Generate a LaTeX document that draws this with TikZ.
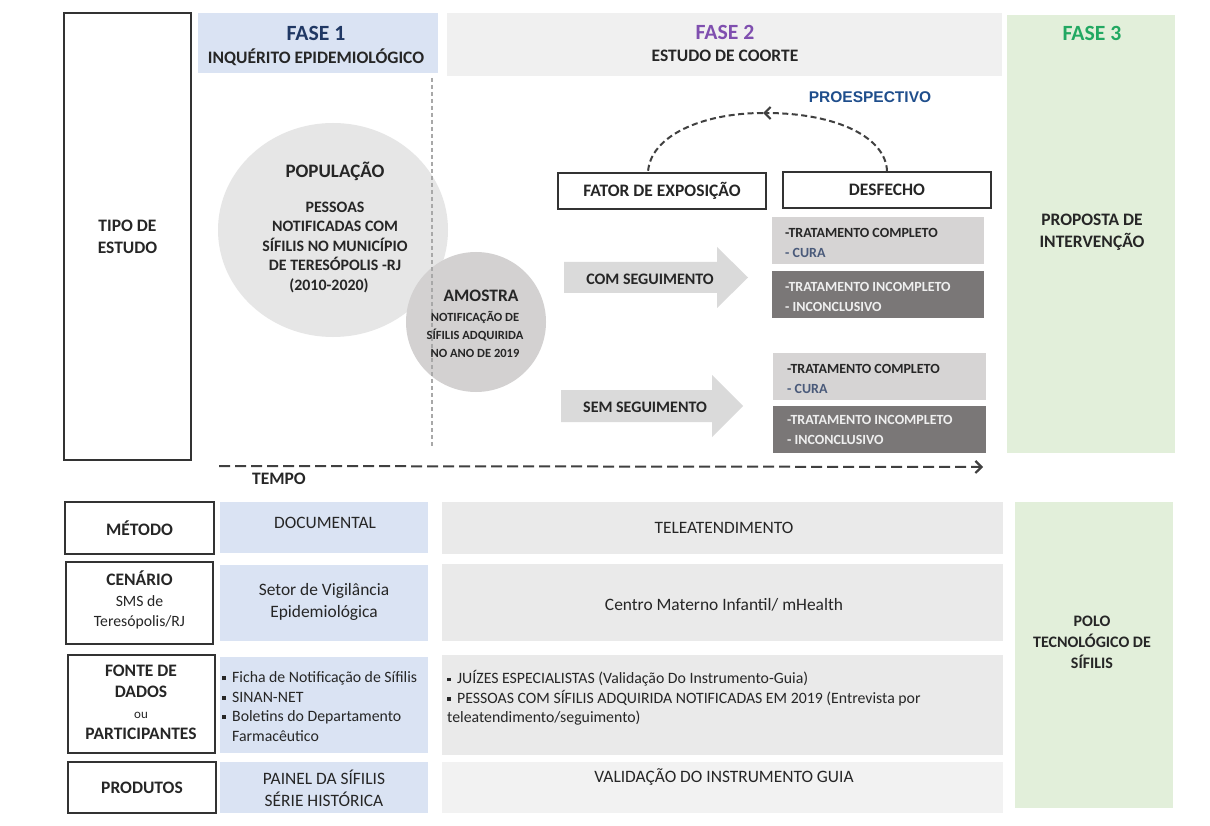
\documentclass[tikz,border=0pt]{standalone}
\usepackage{fontspec}
\setmainfont{Carlito}
\newfontfamily\arialfont{Liberation Sans}
\usetikzlibrary{arrows.meta,shapes.geometric}
\definecolor{txt}{HTML}{262626}
\definecolor{blueF}{HTML}{DAE3F3}
\definecolor{greyH}{HTML}{F0F0F0}
\definecolor{greenF}{HTML}{E2EFDA}
\definecolor{popF}{HTML}{E6E6E6}
\definecolor{amoF}{HTML}{D3D1D1}
\definecolor{arrF}{HTML}{DADADA}
\definecolor{lightB}{HTML}{D6D4D4}
\definecolor{darkB}{HTML}{7A7777}
\definecolor{darkT}{HTML}{EFEFEF}
\definecolor{cura}{HTML}{4A5A7A}
\definecolor{f1c}{HTML}{203864}
\definecolor{f2c}{HTML}{7F4FAF}
\definecolor{f3c}{HTML}{22A862}
\definecolor{proc}{HTML}{1F4E8C}
\definecolor{cellG}{HTML}{EAEAEA}
\definecolor{cellG2}{HTML}{F2F2F2}
\definecolor{lineD}{HTML}{333333}
\definecolor{lineK}{HTML}{404040}
\definecolor{lineV}{HTML}{A8A8A8}
\newcommand{\fsz}[2]{\fontsize{#1}{#2}\selectfont}
\newcommand{\bul}{\makebox[10pt][l]{\raisebox{2.6pt}{\rule{3.6pt}{3.6pt}}}}
\begin{document}
\begin{tikzpicture}[x=1pt,y=-1pt,
  panel/.style={inner sep=0pt, draw=none},
  frame/.style={draw=lineD, line width=1.6pt, fill=white, inner sep=0pt},
  lbl/.style={inner sep=0pt, text=txt, align=center, font=\fsz{17.5}{22}\bfseries},
  reg/.style={inner sep=0pt, text=txt, align=center, font=\fsz{17.4}{22}},
  fase/.style={inner sep=0pt, font=\fsz{21.7}{26}\bfseries},
  outc/.style={inner sep=0pt, anchor=west, align=left, font=\fsz{14}{20}\bfseries},
  lst/.style={inner sep=0pt, anchor=west, align=left, text=txt, font=\fsz{15.8}{19.5}},
  bigarrow/.style={fill=arrF},
  dsh/.style={draw=lineK, line width=2pt, dash pattern=on 6pt off 3.5pt},
  tdsh/.style={draw=lineK, line width=2pt, dash pattern=on 11pt off 5pt},
  tip/.style={-{Straight Barb[length=6pt,width=12pt,line width=2.2pt]}}
]
\useasboundingbox (0,0) rectangle (1210,826);
\fill[white] (0,0) rectangle (1210,826);

% ---------- top section ----------
\node[frame, minimum width=127, minimum height=447] (tipo) at (127.5,236.5) {};
\node[lbl] (tipoT) at (127.5,237) {TIPO DE\\ESTUDO};

\node[panel, fill=blueF, minimum width=240, minimum height=60] (h1) at (318,43) {};
\node[panel, fill=greyH, minimum width=555, minimum height=63] (h2) at (724.5,44.5) {};
\node[panel, fill=greenF, minimum width=168, minimum height=438] (h3) at (1091,234) {};

\node[fase, text=f1c] (f1) at (316,33) {FASE 1};
\node[lbl] (f1s) at (316,57) {INQUÉRITO EPIDEMIOLÓGICO};
\node[fase, text=f2c] (f2) at (725,32) {FASE 2};
\node[lbl] (f2s) at (725,56) {ESTUDO DE COORTE};
\node[fase, text=f3c] (f3) at (1092,33) {FASE 3};
\node[lbl] (f3s) at (1092,232) {PROPOSTA DE\\INTERVENÇÃO};

% circles
\node[ellipse, fill=popF, minimum width=230, minimum height=214, inner sep=0pt] (pop) at (333,230) {};
\node[circle, fill=amoF, minimum size=140, inner sep=0pt] (amo) at (476,322) {};
\coordinate (vt) at (432,78);
\coordinate (vb) at (432,447);
\draw[lineV, line width=1.3pt, dash pattern=on 4pt off 3pt] (vt) -- (vb);

\node[inner sep=0pt, text=txt, font=\fsz{19}{22}\bfseries] (popT) at (335,171) {POPULAÇÃO};
\node[inner sep=0pt, text=txt, align=center, font=\fsz{15.9}{19.5}\bfseries] (popB) at (335,247)
  {PESSOAS\\NOTIFICADAS COM\\SÍFILIS NO MUNICÍPIO\\DE TERESÓPOLIS -RJ\\(2010-2020)\hspace*{12pt}};
\node[lbl] (amoT) at (481,296) {AMOSTRA};
\node[inner sep=0pt, text=txt, align=center, font=\fsz{12.5}{18}\bfseries] (amoB) at (475,334)
  {NOTIFICAÇÃO DE\\SÍFILIS ADQUIRIDA\\NO ANO DE 2019};

% cohort
\node[inner sep=0pt, text=proc, font=\arialfont\fsz{15.5}{18}\bfseries] (pros) at (870,97) {PROESPECTIVO};
\node[frame, minimum width=208, minimum height=36] (fat) at (662,191) {};
\node[lbl] (fatT) at (662,191) {FATOR DE EXPOSIÇÃO};
\node[frame, minimum width=208, minimum height=36] (des) at (887,190) {};
\node[lbl] (desT) at (887,190) {DESFECHO};

\coordinate (apex) at (763,113);
\coordinate (fa) at ([xshift=-14pt]fat.north);
\draw[dsh, tip] (des.north) .. controls (886,138) and (838,113) .. (apex);
\draw[dsh] (apex) .. controls (702,113) and (650,136) .. (fa);

% big arrows
\fill[bigarrow] (564,262) -- (717,262) -- (717,247) -- (748,277.5) -- (717,308) -- (717,293) -- (564,293) -- cycle;
\node[inner sep=0pt, text=txt, font=\fsz{16}{20}\bfseries] (com) at (650,279) {COM SEGUIMENTO};
\fill[bigarrow] (561,390) -- (712,390) -- (712,375) -- (743,406) -- (712,437) -- (712,422) -- (561,422) -- cycle;
\node[inner sep=0pt, text=txt, font=\fsz{16}{20}\bfseries] (sem) at (645,407) {SEM SEGUIMENTO};

% outcome boxes
\node[panel, fill=lightB, minimum width=212, minimum height=47] (lb1) at (878,240.5) {};
\node[panel, fill=darkB, minimum width=212, minimum height=47] (db1) at (878,294.5) {};
\node[panel, fill=lightB, minimum width=213, minimum height=47] (lb2) at (879.5,376.5) {};
\node[panel, fill=darkB, minimum width=213, minimum height=47] (db2) at (879.5,429.5) {};
\node[outc, text=txt] (lb1T) at (785,243) {-TRATAMENTO COMPLETO\\{\color{cura}- CURA}};
\node[outc, text=darkT] (db1T) at (785,297) {-TRATAMENTO INCOMPLETO\\- INCONCLUSIVO};
\node[outc, text=txt] (lb2T) at (787,379) {-TRATAMENTO COMPLETO\\{\color{cura}- CURA}};
\node[outc, text=darkT] (db2T) at (787,430) {-TRATAMENTO INCOMPLETO\\- INCONCLUSIVO};

% time axis
\coordinate (t0) at (219,466);
\coordinate (t1) at (983,467);
\draw[tdsh, tip] (t0) -- (t1);
\node[lbl] (tempo) at (279,479) {TEMPO};

% ---------- bottom section ----------
\node[frame, minimum width=149, minimum height=52] (met) at (139.5,528) {};
\node[frame, minimum width=147, minimum height=82] (cen) at (139.5,603) {};
\node[frame, minimum width=147, minimum height=98] (fon) at (141.5,704) {};
\node[frame, minimum width=148, minimum height=51] (pro) at (142,787.5) {};
\node[lbl] (metT) at (139.5,528) {MÉTODO};
\node[inner sep=0pt, text=txt, align=center, font=\fsz{15.7}{20.5}] (cenT) at (139.5,600)
  {{\fsz{17.5}{20.5}\bfseries CENÁRIO}\\SMS de\\Teresópolis/RJ};
\node[inner sep=0pt, text=txt, align=center, font=\fsz{17.5}{21}\bfseries] (fonT) at (141,702)
  {FONTE DE\\DADOS\\{\mdseries\fsz{13}{21}ou}\\PARTICIPANTES};
\node[lbl] (proT) at (142,788) {PRODUTOS};

\node[panel, fill=blueF, minimum width=208, minimum height=51] (b1) at (324,527.5) {};
\node[panel, fill=blueF, minimum width=208, minimum height=76] (b2) at (324,603) {};
\node[panel, fill=blueF, minimum width=208, minimum height=96] (b3) at (324,705) {};
\node[panel, fill=blueF, minimum width=208, minimum height=51] (b4) at (324,787.5) {};
\node[panel, fill=cellG, minimum width=561, minimum height=52] (g1) at (722.5,528) {};
\node[panel, fill=cellG, minimum width=561, minimum height=77] (g2) at (722.5,602.5) {};
\node[panel, fill=cellG, minimum width=561, minimum height=100] (g3) at (722.5,705) {};
\node[panel, fill=cellG2, minimum width=561, minimum height=51] (g4) at (722.5,787.5) {};
\node[panel, fill=greenF, minimum width=158, minimum height=306] (gr) at (1094,655) {};

\node[reg] (b1T) at (325,523) {DOCUMENTAL};
\node[reg] (b2T) at (324,602) {Setor de Vigilância\\Epidemiológica};
\node[lst] (b3T) at (222,706.5) {\bul Ficha de Notificação de Sífilis\\\bul SINAN-NET\\\bul Boletins do Departamento\\\hspace*{10pt}Farmacêutico};
\node[reg] (b4T) at (324,788) {PAINEL DA SÍFILIS\\SÉRIE HISTÓRICA};

\node[reg] (g1T) at (724,528) {TELEATENDIMENTO};
\node[reg] (g2T) at (724,605) {Centro Materno Infantil/ mHealth};
\node[lst] (g3T) at (447,698) {\bul JUÍZES ESPECIALISTAS (Validação Do Instrumento-Guia)\\\bul PESSOAS COM SÍFILIS ADQUIRIDA NOTIFICADAS EM 2019 (Entrevista por\\teleatendimento/seguimento)};
\node[reg] (g4T) at (724,777) {VALIDAÇÃO DO INSTRUMENTO GUIA};

\node[inner sep=0pt, text=txt, align=center, font=\fsz{16}{21}\bfseries] (polo) at (1092,642) {POLO\\TECNOLÓGICO DE\\SÍFILIS};
\end{tikzpicture}
\end{document}
